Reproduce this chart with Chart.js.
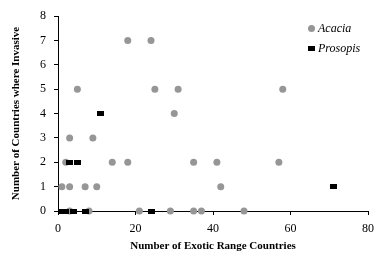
<!DOCTYPE html>
<html><head><meta charset="utf-8">
<script src="https://cdn.jsdelivr.net/npm/chart.js@4/dist/chart.umd.min.js"></script>
<style>html,body{margin:0;padding:0;background:#fff;overflow:hidden}</style>
</head><body>
<canvas id="c" width="388" height="261"></canvas>
<script>
// ---- data ----
const seriesNames = ['Acacia', 'Prosopis'];
const acaciaX = [18, 24, 5, 25, 31, 58, 30, 3, 9, 2, 14, 18, 35, 41, 57, 1, 3, 7, 10, 42, 3, 8, 21, 29, 35, 37, 48];
const acaciaY = [7, 7, 5, 5, 5, 5, 4, 3, 3, 2, 2, 2, 2, 2, 2, 1, 1, 1, 1, 1, 0, 0, 0, 0, 0, 0, 0];
const prosopisX = [11, 3, 5, 71, 1, 2, 4, 7, 24];
const prosopisY = [4, 2, 2, 1, 0, 0, 0, 0, 0];
const xTicks = [0, 20, 40, 60, 80];
const yTicks = [0, 1, 2, 3, 4, 5, 6, 7, 8];
const xTitle = 'Number of Exotic Range Countries';
const yTitle = 'Number of Countries where Invasive';

const GRAY = '#969696';
const SERIF = '"Liberation Serif", "Times New Roman", serif';

// square marker (slightly wider than tall, like the reference)
const sq = document.createElement('canvas');
sq.width = 7; sq.height = 5;
const g = sq.getContext('2d');
g.fillStyle = '#000'; g.fillRect(0, 0, 7, 5);

const toPts = (xs, ys) => xs.map((x, i) => ({x: x, y: ys[i]}));

const legendPlugin = {
  id: 'customLegend',
  afterDraw(chart) {
    const ctx = chart.ctx;
    const a = chart.chartArea;
    const mx = a.right - 56.5;
    const tx = a.right - 50;
    ctx.save();
    ctx.font = 'italic 12px ' + SERIF;
    ctx.textBaseline = 'middle';
    ctx.textAlign = 'left';
    ctx.fillStyle = GRAY;
    ctx.beginPath(); ctx.arc(mx, a.top + 12.5, 3.5, 0, Math.PI * 2); ctx.fill();
    ctx.fillStyle = '#000';
    ctx.fillText(seriesNames[0], tx, a.top + 13);
    ctx.drawImage(sq, Math.round(mx - 3.5), Math.round(a.top + 32 - 2.5));
    ctx.fillText(seriesNames[1], tx, a.top + 32.5);
    ctx.restore();
  }
};

new Chart(document.getElementById('c'), {
  type: 'scatter',
  data: {
    datasets: [
      {label: seriesNames[0], data: toPts(acaciaX, acaciaY), order: 2, clip: false,
       pointStyle: 'circle', pointRadius: 3.5, pointHoverRadius: 3.5,
       backgroundColor: GRAY, borderColor: GRAY, borderWidth: 0},
      {label: seriesNames[1], data: toPts(prosopisX, prosopisY), order: 1, clip: false,
       pointStyle: sq, pointRadius: 3.5, pointHoverRadius: 3.5,
       backgroundColor: '#000', borderColor: '#000', borderWidth: 0}
    ]
  },
  options: {
    responsive: false,
    animation: false,
    devicePixelRatio: 1,
    layout: {padding: {left: 0, right: 20, top: 16, bottom: 0}},
    plugins: {legend: {display: false}, tooltip: {enabled: false}},
    scales: {
      x: {
        type: 'linear', min: 0, max: 80,
        afterBuildTicks: s => { s.ticks = xTicks.map(v => ({value: v})); },
        afterFit: s => { s.height = 50; },
        grid: {display: true, drawOnChartArea: false, drawTicks: true, tickLength: 4, color: '#000', lineWidth: 1},
        border: {display: true, color: '#000', width: 1},
        ticks: {color: '#000', font: {family: SERIF, size: 12}, padding: 7, maxRotation: 0},
        title: {display: true, text: xTitle, color: '#000',
                font: {family: SERIF, size: 11, weight: 'bold'}, padding: {top: 0, bottom: 8}}
      },
      y: {
        type: 'linear', min: 0, max: 8,
        afterBuildTicks: s => { s.ticks = yTicks.map(v => ({value: v})); },
        afterFit: s => { s.width = 58; },
        grid: {display: true, drawOnChartArea: false, drawTicks: true, tickLength: 4, color: '#000', lineWidth: 1},
        border: {display: true, color: '#000', width: 1},
        ticks: {color: '#000', font: {family: SERIF, size: 12}, padding: 8},
        title: {display: true, text: yTitle, color: '#000',
                font: {family: SERIF, size: 11, weight: 'bold'}, padding: {top: 10, bottom: 0}}
      }
    }
  },
  plugins: [legendPlugin]
});
</script>
</body></html>
